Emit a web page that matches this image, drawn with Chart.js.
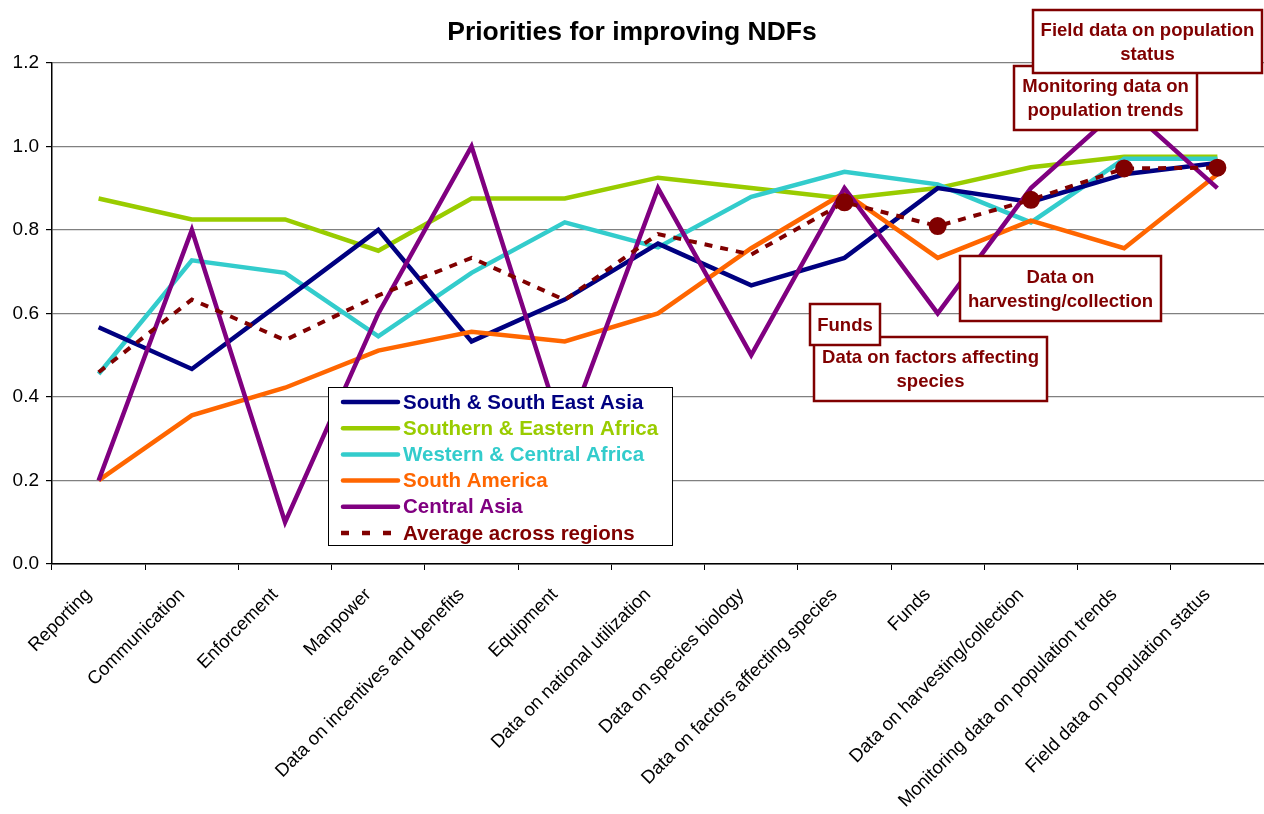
<!DOCTYPE html>
<html>
<head>
<meta charset="utf-8">
<title>Priorities for improving NDFs</title>
<script src="https://cdn.jsdelivr.net/npm/chart.js@4.4.7/dist/chart.umd.min.js"></script>
<style>
  html, body { margin: 0; padding: 0; background: #ffffff; }
  #wrap { width: 1264px; height: 814px; position: relative; }
</style>
</head>
<body>
<div id="wrap"><canvas id="ndfChart"></canvas></div>
<script>
const categories = [
  "Reporting",
  "Communication",
  "Enforcement",
  "Manpower",
  "Data on incentives and benefits",
  "Equipment",
  "Data on national utilization",
  "Data on species biology",
  "Data on factors affecting species",
  "Funds",
  "Data on harvesting/collection",
  "Monitoring data on population trends",
  "Field data on population status",
];

const southAsia = [0.567, 0.467, 0.633, 0.8, 0.533, 0.633, 0.767, 0.667, 0.733, 0.9, 0.867, 0.933, 0.96];
const southernAfrica = [0.875, 0.825, 0.825, 0.75, 0.875, 0.875, 0.925, 0.9, 0.875, 0.9, 0.95, 0.975, 0.975];
const westernAfrica = [0.455, 0.727, 0.697, 0.545, 0.697, 0.818, 0.758, 0.879, 0.939, 0.909, 0.818, 0.97, 0.97];
const southAmerica = [0.2, 0.356, 0.422, 0.511, 0.556, 0.533, 0.6, 0.756, 0.889, 0.733, 0.822, 0.756, 0.933];
const centralAsia = [0.2, 0.8, 0.1, 0.6, 1.0, 0.3, 0.9, 0.5, 0.9, 0.6, 0.9, 1.1, 0.9];
const averageAcross = [0.459, 0.633, 0.536, 0.643, 0.733, 0.632, 0.79, 0.741, 0.866, 0.809, 0.872, 0.947, 0.949];

const yTicks = [0, 0.2, 0.4, 0.6, 0.8, 1.0, 1.2];

// categories that get a highlighted marker on the average line
const highlighted = [
  "Data on factors affecting species",
  "Funds",
  "Data on harvesting/collection",
  "Monitoring data on population trends",
  "Field data on population status",
];

const FONT = "'Liberation Sans', Arial, sans-serif";
const MAROON = "#800000";

function series(label, data, color, order) {
  return {
    label,
    data,
    borderColor: color,
    backgroundColor: color,
    borderWidth: 4.5,
    pointRadius: 0,
    tension: 0,
    order,
  };
}

const datasets = [
  series("South & South East Asia", southAsia, "#000080", 3),
  series("Southern & Eastern Africa", southernAfrica, "#99cc00", 5),
  series("Western & Central Africa", westernAfrica, "#33cccc", 4),
  series("South America", southAmerica, "#ff6600", 2),
  series("Central Asia", centralAsia, "#800080", 1),
  {
    label: "Average across regions",
    data: averageAcross,
    borderColor: MAROON,
    backgroundColor: MAROON,
    borderWidth: 4,
    borderDash: [8, 8],
    tension: 0,
    order: 0,
    pointRadius: (ctx) => (highlighted.includes(categories[ctx.dataIndex]) ? 7 : 0),
    pointHoverRadius: 0,
  },
];

// legend drawn inside the plot, on top of the lines
const insideLegend = {
  id: "insideLegend",
  afterDatasetsDraw(chart) {
    const ctx = chart.ctx;
    const box = { x: 328, y: 387, w: 344, h: 158 };
    ctx.save();
    ctx.fillStyle = "#ffffff";
    ctx.fillRect(box.x, box.y, box.w, box.h);
    ctx.strokeStyle = "#000000";
    ctx.lineWidth = 1;
    ctx.strokeRect(box.x + 0.5, box.y + 0.5, box.w, box.h);
    ctx.font = `bold 20.5px ${FONT}`;
    ctx.textBaseline = "middle";
    chart.data.datasets.forEach((dataset, index) => {
      const y = 402 + index * 26.2;
      ctx.strokeStyle = dataset.borderColor;
      ctx.lineWidth = 4.5;
      ctx.setLineDash(dataset.borderDash ? [8, 13] : []);
      ctx.lineCap = dataset.borderDash ? "butt" : "round";
      ctx.beginPath();
      ctx.moveTo(dataset.borderDash ? 341 : 343, y);
      ctx.lineTo(398, y);
      ctx.stroke();
      ctx.setLineDash([]);
      ctx.fillStyle = dataset.borderColor;
      ctx.fillText(dataset.label, 403, y + 1);
    });
    ctx.restore();
  },
};

// boxed category call-outs, listed bottom-most first
const callouts = [
  { lines: ["Data on factors affecting", "species"], x: 814, y: 337, w: 233, h: 64 },
  { lines: ["Funds"], x: 810, y: 304, w: 70, h: 41 },
  { lines: ["Data on", "harvesting/collection"], x: 960, y: 256, w: 201, h: 65 },
  { lines: ["Monitoring data on", "population trends"], x: 1014, y: 66, w: 183, h: 64 },
  { lines: ["Field data on population", "status"], x: 1033, y: 10, w: 229, h: 63 },
];

const calloutBoxes = {
  id: "calloutBoxes",
  afterDraw(chart) {
    const ctx = chart.ctx;
    ctx.save();
    ctx.font = `bold 18.5px ${FONT}`;
    ctx.textAlign = "center";
    ctx.textBaseline = "middle";
    callouts.forEach((c) => {
      ctx.fillStyle = "#ffffff";
      ctx.fillRect(c.x, c.y, c.w, c.h);
      ctx.strokeStyle = MAROON;
      ctx.lineWidth = 2.5;
      ctx.strokeRect(c.x, c.y, c.w, c.h);
      ctx.fillStyle = MAROON;
      const cx = c.x + c.w / 2;
      const top = c.y + c.h / 2 - ((c.lines.length - 1) * 24) / 2;
      c.lines.forEach((line, i) => ctx.fillText(line, cx, top + i * 24 + 1));
    });
    ctx.restore();
  },
};

new Chart(document.querySelector("#ndfChart"), {
  type: "line",
  data: { labels: categories, datasets },
  plugins: [insideLegend, calloutBoxes],
  options: {
    responsive: true,
    maintainAspectRatio: false,
    animation: false,
    layout: { autoPadding: false, padding: 0 },
    plugins: {
      legend: { display: false },
      tooltip: { enabled: false },
      title: {
        display: true,
        text: "Priorities for improving NDFs",
        color: "#000000",
        font: { family: FONT, size: 26.5, weight: "bold" },
        padding: { top: 17, bottom: 14 },
      },
    },
    scales: {
      x: {
        offset: true,
        afterFit(scale) {
          scale.height = 250;
          scale.paddingLeft = 0;
          scale.paddingRight = 0;
        },
        grid: {
          offset: true,
          drawOnChartArea: false,
          drawTicks: true,
          tickLength: 6,
          tickColor: "#000000",
        },
        border: { color: "#000000", width: 1.5 },
        ticks: {
          autoSkip: false,
          minRotation: 45,
          maxRotation: 45,
          padding: 14,
          labelOffset: -10,
          color: "#000000",
          font: { family: FONT, size: 18.5 },
        },
      },
      y: {
        min: 0,
        max: 1.2,
        afterFit(scale) {
          scale.width = 52;
        },
        afterBuildTicks(scale) {
          scale.ticks = yTicks.map((value) => ({ value }));
        },
        grid: {
          color: "#808080",
          lineWidth: 1.2,
          tickLength: 6,
          tickColor: "#000000",
        },
        border: { color: "#000000", width: 1.5 },
        ticks: {
          padding: 7,
          color: "#000000",
          font: { family: FONT, size: 19 },
          callback: (value) => Number(value).toFixed(1),
        },
      },
    },
  },
});
</script>
</body>
</html>
